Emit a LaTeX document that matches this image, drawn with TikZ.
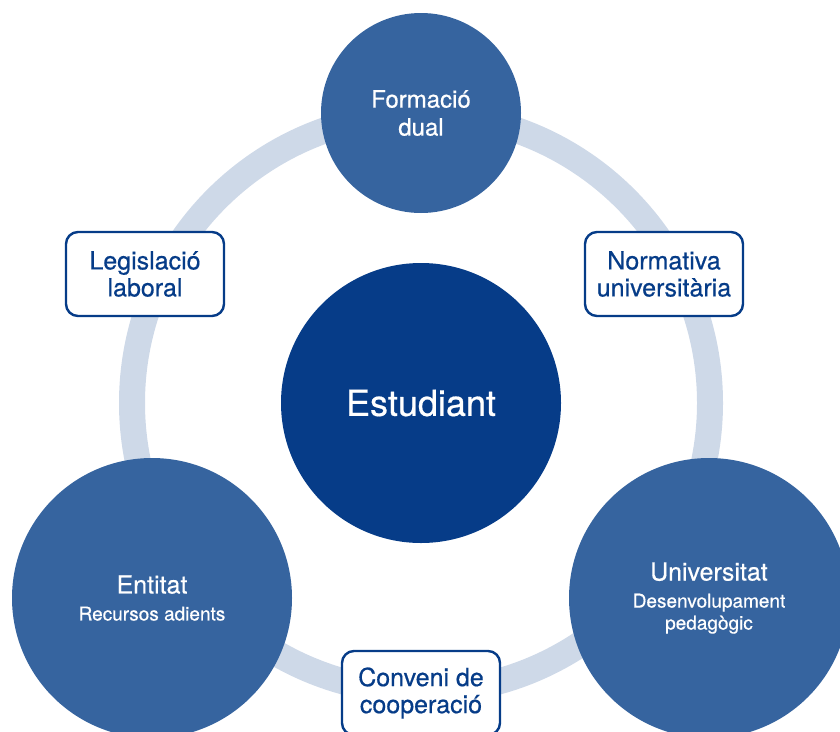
\documentclass[tikz,border=0pt]{standalone}
\usepackage{fontspec}
\setmainfont{TeX Gyre Heros}[FakeBold=0.5]
\usepackage{tikz}
\usetikzlibrary{positioning}

\definecolor{ringblue}{HTML}{CED9E8}
\definecolor{midblue}{HTML}{36649F}
\definecolor{darkblue}{HTML}{063C88}

\tikzset{
  partner/.style={shape=circle,
    minimum size=280pt,
    inner sep=0pt,
    fill=midblue,
    text=white,
    align=center,
    font=\fontsize{19}{22}\selectfont},
  tag/.style={shape=rectangle,
    rounded corners=12pt,
    line width=2.4pt,
    draw=darkblue,
    fill=white,
    text=darkblue,
    minimum width=158pt,
    minimum height=84pt,
    align=center,
    font=\fontsize{25}{27}\selectfont}
}

\begin{document}
\begin{tikzpicture}[x=1pt,y=-1pt]
    \useasboundingbox (0,0) rectangle (840,731);

    \coordinate (hub) at (421,403);

    % ring behind everything
    \draw[ringblue, line width=26pt] (hub) circle[radius=289];

    \node[name=estudiant,
      shape=circle,
      minimum size=280pt,
      inner sep=0pt,
      fill=darkblue,
      text=white,
      font=\fontsize{36}{40}\selectfont] at (hub) {Estudiant};

    \node[name=formacio,
      shape=circle,
      minimum size=200pt,
      inner sep=0pt,
      fill=midblue,
      text=white,
      align=center,
      font=\fontsize{24}{28}\selectfont] at (421,113) {Formació\\dual};

    \node[name=entitat,
      partner] at (152,598)
      {{\fontsize{25}{27}\selectfont Entitat}\\[5pt]Recursos adients};

    \node[name=universitat,
      partner] at (709,598)
      {{\fontsize{25}{27}\selectfont Universitat}\\[5pt]Desenvolupament\\pedagògic};

    \node[name=legislacio,
      tag] at (145,274) {Legislació\\laboral};

    \node[name=normativa,
      tag] at (664,274) {Normativa\\universitària};

    \node[name=conveni,
      tag] at (421,693) {Conveni de\\cooperació};

\end{tikzpicture}
\end{document}
